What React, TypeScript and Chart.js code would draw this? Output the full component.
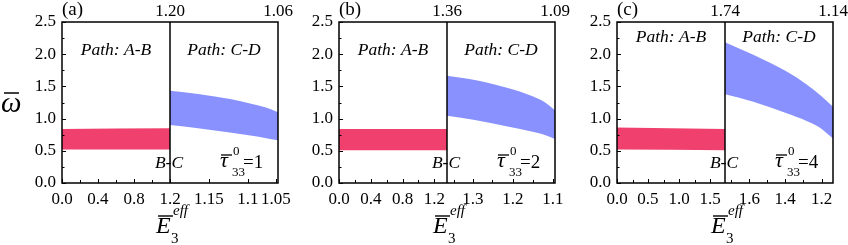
import React, { useEffect, useRef } from "react";
import { Chart, registerables } from "chart.js";
Chart.register(...registerables);

const FONT = "'Liberation Serif', 'DejaVu Serif', 'Times New Roman', Times, serif";
const RED = "rgb(240,64,110)";
const BLUE = "rgb(137,145,255)";

const Y_TICKS = [0, 0.5, 1.0, 1.5, 2.0, 2.5];
const Y_MINOR = [0.25, 0.75, 1.25, 1.75, 2.25];

// path position: 0..1 = path A-B, 1..2 = path C-D
// ---- panel (a)
const A_RED_X = [0, 0.5, 1];
const A_RED_LOW = [0.52, 0.52, 0.52];
const A_RED_UP = [0.84, 0.845, 0.85];
const A_BLUE_X = [1, 1.26, 1.57, 1.76, 1.88, 2];
const A_BLUE_UP = [1.433, 1.382, 1.3, 1.227, 1.175, 1.1];
const A_BLUE_LOW = [0.9, 0.85, 0.78, 0.735, 0.7, 0.665];
const A_TICK_POS = [0, 0.3333, 0.6667, 1, 1.361, 1.72, 1.98];
const A_TICK_LABELS = ["0.0", "0.4", "0.8", "1.2", "1.15", "1.1", "1.05"];
const A_MINOR_POS = [0.1667, 0.5, 0.8333];
const A_TOP_POS = [1, 2];
const A_TOP_LABELS = ["1.20", "1.06"];

// ---- panel (b)
const B_RED_X = [0, 0.5, 1];
const B_RED_LOW = [0.51, 0.51, 0.51];
const B_RED_UP = [0.84, 0.84, 0.84];
const B_BLUE_X = [1, 1.258, 1.572, 1.761, 1.887, 2];
const B_BLUE_UP = [1.666, 1.6, 1.47, 1.366, 1.273, 1.13];
const B_BLUE_LOW = [1.045, 0.978, 0.874, 0.807, 0.756, 0.683];
const B_TICK_POS = [0, 0.294, 0.588, 0.882, 1.24, 1.61, 1.98];
const B_TICK_LABELS = ["0.0", "0.4", "0.8", "1.2", "1.3", "1.2", "1.1"];
const B_MINOR_POS = [0.147, 0.441, 0.735, 1.066, 1.42, 1.8];
const B_TOP_POS = [1, 2];
const B_TOP_LABELS = ["1.36", "1.09"];

// ---- panel (c)
const C_RED_X = [0, 0.5, 1];
const C_RED_LOW = [0.52, 0.515, 0.51];
const C_RED_UP = [0.86, 0.85, 0.84];
const C_BLUE_X = [1, 1.262, 1.571, 1.756, 1.88, 2];
const C_BLUE_UP = [2.185, 1.99, 1.73, 1.53, 1.366, 1.185];
const C_BLUE_LOW = [1.377, 1.262, 1.082, 0.963, 0.859, 0.69];
const C_TICK_POS = [0, 0.287, 0.575, 0.862, 1.225, 1.556, 1.895];
const C_TICK_LABELS = ["0.0", "0.5", "1.0", "1.5", "1.6", "1.4", "1.2"];
const C_MINOR_POS = [0.144, 0.431, 0.718, 1.06, 1.39, 1.725];
const C_TOP_POS = [1, 2];
const C_TOP_LABELS = ["1.74", "1.14"];

const pts = (xs: number[], ys: number[]) => xs.map((x, i) => ({ x, y: ys[i] }));

type PanelCfg = {
  left: number;
  letter: string;
  tau: string;
  pathY: number;
  showYTitle: boolean;
  redX: number[]; redLow: number[]; redUp: number[];
  blueX: number[]; blueLow: number[]; blueUp: number[];
  tickPos: number[]; tickLabels: string[]; minorPos: number[];
  topPos: number[]; topLabels: string[];
};

const PANELS: PanelCfg[] = [
  { left: 0, letter: "(a)", tau: "=1", pathY: 55, showYTitle: true,
    redX: A_RED_X, redLow: A_RED_LOW, redUp: A_RED_UP,
    blueX: A_BLUE_X, blueLow: A_BLUE_LOW, blueUp: A_BLUE_UP,
    tickPos: A_TICK_POS, tickLabels: A_TICK_LABELS, minorPos: A_MINOR_POS,
    topPos: A_TOP_POS, topLabels: A_TOP_LABELS },
  { left: 277, letter: "(b)", tau: "=2", pathY: 55, showYTitle: false,
    redX: B_RED_X, redLow: B_RED_LOW, redUp: B_RED_UP,
    blueX: B_BLUE_X, blueLow: B_BLUE_LOW, blueUp: B_BLUE_UP,
    tickPos: B_TICK_POS, tickLabels: B_TICK_LABELS, minorPos: B_MINOR_POS,
    topPos: B_TOP_POS, topLabels: B_TOP_LABELS },
  { left: 555, letter: "(c)", tau: "=4", pathY: 42, showYTitle: false,
    redX: C_RED_X, redLow: C_RED_LOW, redUp: C_RED_UP,
    blueX: C_BLUE_X, blueLow: C_BLUE_LOW, blueUp: C_BLUE_UP,
    tickPos: C_TICK_POS, tickLabels: C_TICK_LABELS, minorPos: C_MINOR_POS,
    topPos: C_TOP_POS, topLabels: C_TOP_LABELS },
];

function makeAnnot(cfg: PanelCfg) {
  return {
    id: "annot",
    afterDraw(chart: any) {
      const ctx = chart.ctx as CanvasRenderingContext2D;
      const { left, right, top, bottom } = chart.chartArea;
      const xs = chart.scales.x;
      const ys = chart.scales.y;
      const xd = xs.getPixelForValue(1);
      ctx.save();
      ctx.strokeStyle = "#000";
      ctx.fillStyle = "#000";
      ctx.lineWidth = 1.5;
      ctx.strokeRect(left, top, right - left, bottom - top);
      ctx.beginPath();
      ctx.moveTo(xd, top);
      ctx.lineTo(xd, bottom);
      ctx.stroke();

      ctx.lineWidth = 1;
      ctx.beginPath();
      for (const v of Y_TICKS) {
        const py = Math.round(ys.getPixelForValue(v)) + 0.5;
        ctx.moveTo(left, py); ctx.lineTo(left + 4, py);
      }
      for (const v of Y_MINOR) {
        const py = Math.round(ys.getPixelForValue(v)) + 0.5;
        ctx.moveTo(left, py); ctx.lineTo(left + 2.5, py);
      }
      for (const v of cfg.tickPos) {
        const px = Math.round(xs.getPixelForValue(v)) + 0.5;
        ctx.moveTo(px, bottom); ctx.lineTo(px, bottom - 4);
      }
      for (const v of cfg.minorPos) {
        const px = Math.round(xs.getPixelForValue(v)) + 0.5;
        ctx.moveTo(px, bottom); ctx.lineTo(px, bottom - 3);
      }
      ctx.stroke();

      // panel letter
      ctx.textBaseline = "alphabetic";
      ctx.textAlign = "left";
      ctx.font = `19px ${FONT}`;
      ctx.fillText(cfg.letter, left, 15);

      // path labels
      ctx.font = `italic 17.5px ${FONT}`;
      ctx.textAlign = "center";
      ctx.fillText("Path: A-B", xs.getPixelForValue(0.5), cfg.pathY);
      ctx.fillText("Path: C-D", xs.getPixelForValue(1.5), cfg.pathY);
      ctx.fillText("B-C", xd - 1, 168);

      // tau label
      const x0 = right - 58;
      ctx.textAlign = "left";
      ctx.font = `italic 22px ${FONT}`;
      ctx.fillText("\u03C4", x0, 167);
      ctx.lineWidth = 1.3;
      ctx.beginPath();
      ctx.moveTo(x0 + 1, 155); ctx.lineTo(x0 + 12, 155);
      ctx.stroke();
      ctx.font = `13px ${FONT}`;
      ctx.fillText("33", x0 + 12, 176);
      ctx.fillText("0", x0 + 13, 155);
      ctx.font = `19px ${FONT}`;
      ctx.fillText(cfg.tau, x0 + 23, 168);

      // x title
      const cx = (left + right) / 2;
      ctx.font = `italic 24px ${FONT}`;
      ctx.fillText("E", cx - 14, 233);
      ctx.lineWidth = 1.4;
      ctx.beginPath();
      ctx.moveTo(cx - 12, 216); ctx.lineTo(cx + 3, 216);
      ctx.stroke();
      ctx.font = `15px ${FONT}`;
      ctx.fillText("3", cx + 1, 243);
      ctx.font = `italic 15px ${FONT}`;
      ctx.fillText("eff", cx + 3, 215);

      // y title
      if (cfg.showYTitle) {
        ctx.font = `italic 29px ${FONT}`;
        ctx.fillText("\u03C9", 1, 112);
        ctx.lineWidth = 1.5;
        ctx.beginPath();
        ctx.moveTo(4, 93); ctx.lineTo(19, 93);
        ctx.stroke();
      }
      ctx.restore();
    },
  };
}

function Panel({ cfg }: { cfg: PanelCfg }) {
  const ref = useRef<HTMLCanvasElement>(null);
  useEffect(() => {
    if (!ref.current) return;
    const tickFont = { family: FONT, size: 17 };
    const chart = new Chart(ref.current, {
      type: "line",
      data: {
        datasets: [
          { data: pts(cfg.redX, cfg.redLow), borderWidth: 0, pointRadius: 0, fill: false },
          { data: pts(cfg.redX, cfg.redUp), borderWidth: 0, pointRadius: 0, fill: "-1", backgroundColor: RED },
          { data: pts(cfg.blueX, cfg.blueLow), borderWidth: 0, pointRadius: 0, fill: false, cubicInterpolationMode: "monotone" },
          { data: pts(cfg.blueX, cfg.blueUp), borderWidth: 0, pointRadius: 0, fill: "-1", backgroundColor: BLUE, cubicInterpolationMode: "monotone" },
        ] as any,
      },
      options: {
        animation: false,
        responsive: false,
        devicePixelRatio: 1,
        events: [],
        layout: { padding: { left: 0, right: 22, top: 0, bottom: 0 } },
        plugins: { legend: { display: false }, tooltip: { enabled: false } },
        scales: {
          x: {
            type: "linear", position: "bottom", min: 0, max: 2,
            grid: { display: false, drawTicks: false }, border: { display: false },
            afterBuildTicks: (s: any) => { s.ticks = cfg.tickPos.map((v) => ({ value: v })); },
            afterFit: (s: any) => { s.height = 62; s.paddingLeft = 0; s.paddingRight = 0; },
            ticks: {
              autoSkip: false, maxRotation: 0, minRotation: 0, padding: 6, color: "#000", font: tickFont,
              callback: (_v: any, i: number) => cfg.tickLabels[i],
            },
          },
          x2: {
            type: "linear", position: "top", min: 0, max: 2,
            grid: { display: false, drawTicks: false }, border: { display: false },
            afterBuildTicks: (s: any) => { s.ticks = cfg.topPos.map((v) => ({ value: v })); },
            afterFit: (s: any) => { s.height = 22; s.paddingLeft = 0; s.paddingRight = 0; },
            ticks: {
              autoSkip: false, maxRotation: 0, minRotation: 0, padding: 0, color: "#000", font: tickFont,
              callback: (_v: any, i: number) => cfg.topLabels[i],
            },
          },
          y: {
            type: "linear", position: "left", min: 0, max: 2.5,
            grid: { display: false, drawTicks: false }, border: { display: false },
            afterBuildTicks: (s: any) => { s.ticks = Y_TICKS.map((v) => ({ value: v })); },
            afterFit: (s: any) => { s.width = 62; s.paddingTop = 0; s.paddingBottom = 0; },
            ticks: {
              padding: 6, color: "#000", font: tickFont,
              callback: (v: any) => Number(v).toFixed(1),
            },
          },
        },
      } as any,
      plugins: [makeAnnot(cfg)],
    });
    let alive = true;
    const fonts = (document as any).fonts;
    if (fonts && fonts.load) {
      Promise.all([
        fonts.load(`17px "Liberation Serif"`),
        fonts.load(`italic 17px "Liberation Serif"`),
      ]).then(() => { if (alive) chart.update(); }).catch(() => {});
    }
    return () => { alive = false; chart.destroy(); };
  }, [cfg]);
  return (
    <canvas
      ref={ref}
      width={300}
      height={245}
      style={{ position: "absolute", left: cfg.left, top: 0, width: 300, height: 245, display: "block" }}
    />
  );
}

export default function App() {
  return (
    <div style={{ position: "fixed", left: 0, top: 0, width: 848, height: 245, background: "#fff", overflow: "hidden" }}>
      <span style={{ position: "absolute", left: -1000, top: 0, fontFamily: FONT }}>
        0.5 <i>Path</i>
      </span>
      {PANELS.map((p) => (
        <Panel key={p.letter} cfg={p} />
      ))}
    </div>
  );
}
